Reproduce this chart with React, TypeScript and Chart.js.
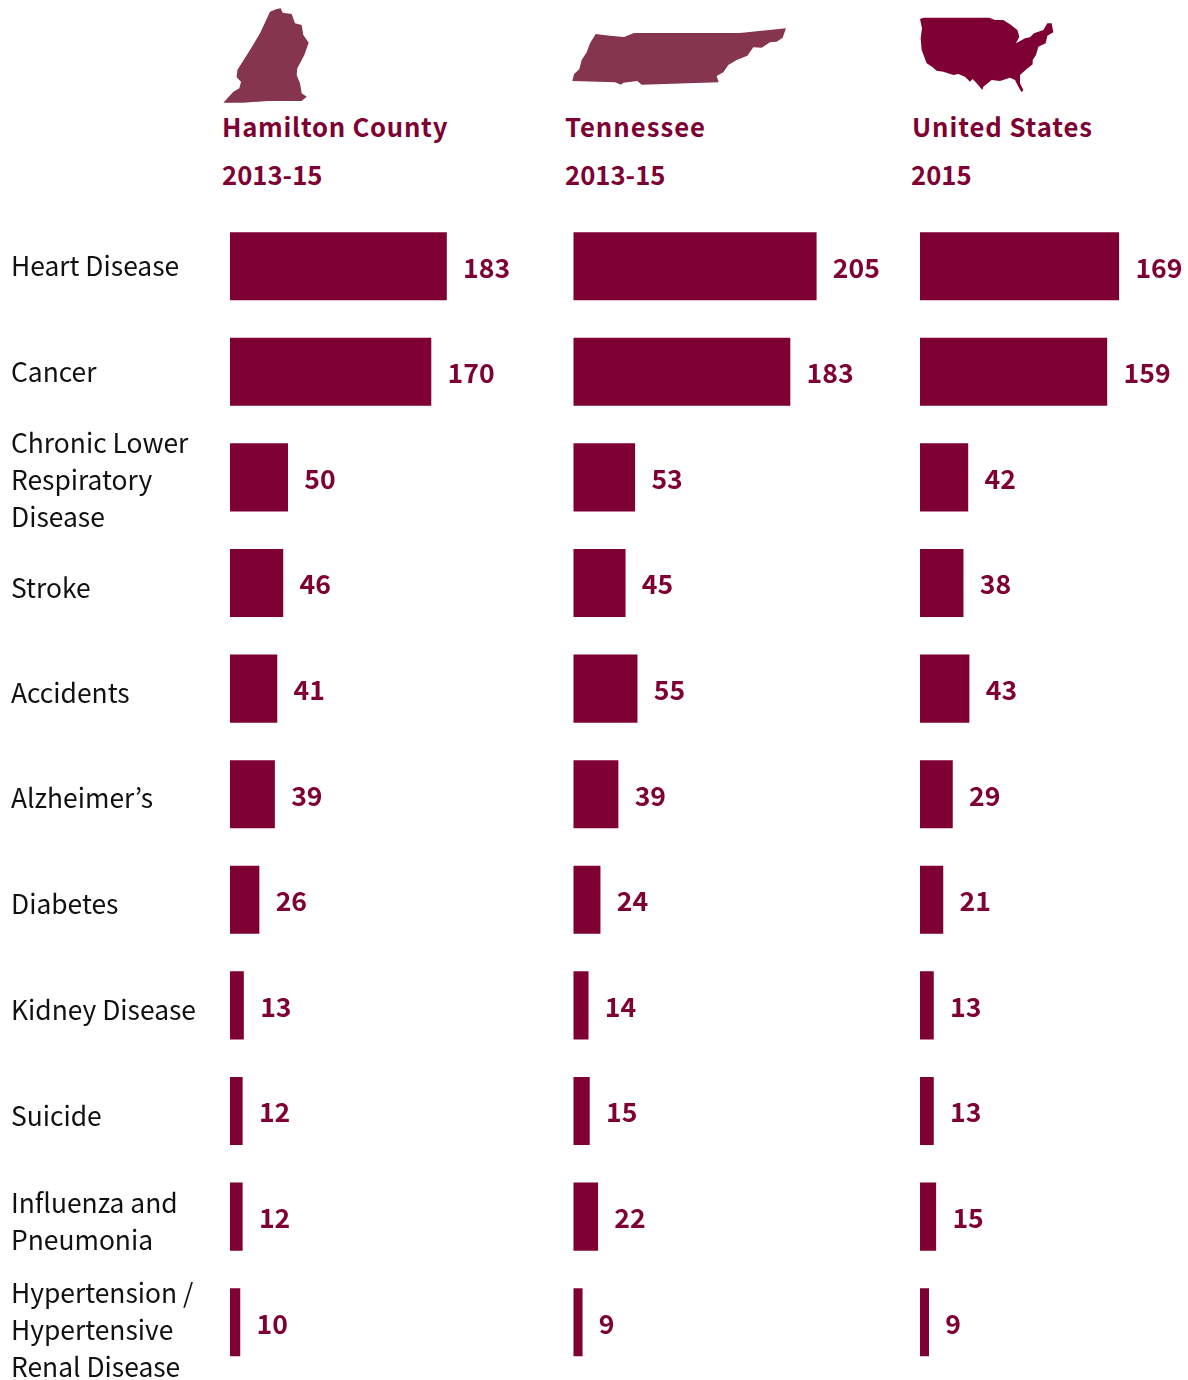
import React, { useEffect, useRef } from "react";
import { Chart, registerables } from "chart.js";

Chart.register(...registerables);

const causes: (string | string[])[] = [
  "Heart Disease",
  "Cancer",
  ["Chronic Lower", "Respiratory", "Disease"],
  "Stroke",
  "Accidents",
  "Alzheimer’s",
  "Diabetes",
  "Kidney Disease",
  "Suicide",
  ["Influenza and", "Pneumonia"],
  ["Hypertension /", "Hypertensive", "Renal Disease"],
];
const hamilton = [183, 170, 50, 46, 41, 39, 26, 13, 12, 12, 10];
const tennessee = [205, 183, 53, 45, 55, 39, 24, 14, 15, 22, 9];
const unitedStates = [169, 159, 42, 38, 43, 29, 21, 13, 13, 15, 9];

// Vertical drift of each category label relative to its bar
const labelDrift = [0, 0, 3, 4.5, 4, 4, 4, 4.5, 5, 5, 7.5];

const FONT = "'Noto Sans CJK KR', 'Source Sans Pro', sans-serif";
const WINE = "#7f0033";
const AXIS_MIN = 1.42;

const valueLabels = {
  id: "valueLabels",
  afterDatasetsDraw(chart: any) {
    const { ctx } = chart;
    const meta = chart.getDatasetMeta(0);
    const values = chart.data.datasets[0].data;
    ctx.save();
    ctx.font = `700 26.6px ${FONT}`;
    ctx.fillStyle = WINE;
    ctx.textAlign = "left";
    ctx.textBaseline = "middle";
    meta.data.forEach((bar: any, i: number) => {
      ctx.fillText(String(values[i]), bar.x + 16.3, bar.y + 1.2);
    });
    ctx.restore();
  },
};

function Panel({ values, left, width, axisWidth, padLeft, pxPerUnit }: { values: number[]; left: number; width: number; axisWidth: number; padLeft: number; pxPerUnit: number }) {
  const ref = useRef<HTMLCanvasElement>(null);
  useEffect(() => {
    const chart = new Chart(ref.current!, {
      type: "bar",
      data: {
        labels: causes as any,
        datasets: [{ data: values, backgroundColor: WINE, categoryPercentage: 1, barPercentage: 0.648, borderWidth: 0 }],
      },
      plugins: [valueLabels],
      options: {
        indexAxis: "y",
        animation: false,
        responsive: false,
        layout: { padding: { top: 213.4, bottom: 5, left: padLeft, right: 0 } },
        plugins: { legend: { display: false }, title: { display: false }, tooltip: { enabled: false } },
        scales: {
          x: {
            display: false,
            min: AXIS_MIN,
            max: AXIS_MIN + (width - padLeft - axisWidth) / pxPerUnit,
            grid: { display: false },
          },
          y: {
            display: axisWidth > 0,
            grid: { display: false },
            border: { display: false },
            afterFit: (s: any) => {
              if (axisWidth > 0) s.width = axisWidth;
              s.paddingTop = 0;
              s.paddingBottom = 0;
              if (!s._drifted) {
                s._drifted = true;
                const tickPixel = s.getPixelForTick.bind(s);
                s.getPixelForTick = (i: number) => tickPixel(i) + labelDrift[i];
              }
            },
            ticks: {
              autoSkip: false,
              color: "#111111",
              crossAlign: "far",
              padding: 0,
              font: { family: FONT, size: 26.4, weight: 400, lineHeight: 37 / 26.4 },
            },
          },
        } as any,
      },
    });
    return () => chart.destroy();
  }, []);
  return (
    <canvas
      ref={ref}
      width={width}
      height={1380}
      style={{ position: "absolute", left, top: 0, width, height: 1380 }}
    />
  );
}

function Heading({ left, name, years, yearsLeft, spacing }: { left: number; name: string; years: string; yearsLeft?: number; spacing: number }) {
  const base: React.CSSProperties = {
    position: "absolute",
    fontFamily: FONT,
    fontWeight: 700,
    fontSize: 25.7,
    lineHeight: "36px",
    color: WINE,
    whiteSpace: "nowrap",
  };
  return (
    <>
      <div style={{ ...base, left, top: 108, letterSpacing: spacing }}>{name}</div>
      <div style={{ ...base, left: yearsLeft ?? left, top: 156 }}>{years}</div>
    </>
  );
}

const hamiltonShape =
  "40,308 70,275 88,265 93,245 80,232 82,210 120,150 150,100 180,35 198,28 212,25 218,38 245,42 255,70 275,75 280,105 296,128 283,165 262,205 260,225 270,250 275,280 290,290 275,303 175,303 100,308";
const tennesseeShape =
  "37,198 42,178 58,162 65,135 80,112 90,85 107,57 150,62 192,66 222,54 540,54 678,40 668,68 650,80 630,82 605,98 580,97 562,122 530,135 505,150 490,172 470,183 476,202 245,209 232,198 190,203 183,209 165,202";
const usShape =
  "30,42 40,38 238,38 255,45 280,45 300,58 322,75 328,95 318,115 345,100 360,97 372,85 400,75 412,55 425,55 430,82 412,92 407,115 385,125 378,150 368,165 368,178 350,192 330,210 330,235 340,255 335,262 325,245 315,225 300,218 270,228 245,225 220,245 217,255 200,235 188,222 180,230 165,215 145,207 130,210 100,200 80,197 68,187 50,175 35,135 32,100 36,70";

function Shape({ left, top, w, h, points, fill }: { left: number; top: number; w: number; h: number; points: string; fill: string }) {
  return (
    <svg
      width={w}
      height={h}
      viewBox={`0 0 ${w * 3} ${h * 3}`}
      style={{ position: "absolute", left, top }}
    >
      <polygon points={points} fill={fill} />
    </svg>
  );
}

export default function App() {
  return (
    <div style={{ position: "absolute", left: 0, top: 0, width: 1188, height: 1380, background: "#fff", overflow: "hidden" }}>
      <Shape left={210} top={0} w={120} h={110} points={hamiltonShape} fill="#86354f" />
      <Shape left={560} top={15} w={240} h={80} points={tennesseeShape} fill="#86354f" />
      <Shape left={910} top={5} w={160} h={95} points={usShape} fill={WINE} />
      <Heading left={222} name="Hamilton County" years="2013-15" spacing={0.72} />
      <Heading left={565} name="Tennessee" years="2013-15" spacing={1} />
      <Heading left={912} name="United States" years="2015" yearsLeft={911} spacing={0.9} />
      <Panel values={hamilton} left={0} width={573} axisWidth={219} padLeft={11} pxPerUnit={1.194} />
      <Panel values={tennessee} left={573} width={347} axisWidth={0} padLeft={0.5} pxPerUnit={1.194} />
      <Panel values={unitedStates} left={920} width={268} axisWidth={0} padLeft={0} pxPerUnit={1.188} />
    </div>
  );
}
